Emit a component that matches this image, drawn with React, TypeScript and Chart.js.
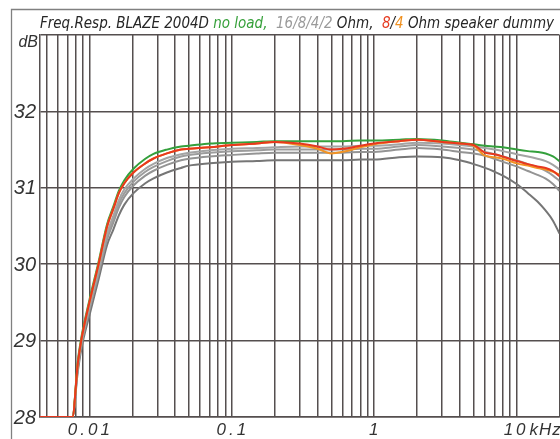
import React, { useEffect, useRef } from "react";
import { Chart, registerables } from "chart.js";

Chart.register(...registerables);

// Measurement frequencies in kHz
const FREQ_KHZ = [
  0.0045, 0.0076, 0.0083, 0.0088, 0.01, 0.0116, 0.0133, 0.0147, 0.0161, 0.0176,
  0.0204, 0.0247, 0.028, 0.035, 0.044, 0.05, 0.07, 0.1, 0.15, 0.2,
  0.3, 0.4, 0.5, 0.6, 0.8, 1, 1.5, 2, 3, 4,
  5, 6, 7, 8, 10, 12, 14, 16, 18, 20,
];

// Level in dB (the plot floor is 28 dB)
const NO_LOAD = [
  28, 28, 28.74, 29.05, 29.53, 30.03, 30.52, 30.75, 30.96, 31.1,
  31.25, 31.38, 31.44, 31.5, 31.54, 31.55, 31.58, 31.59, 31.6, 31.61,
  31.61, 31.61, 31.61, 31.61, 31.62, 31.62, 31.63, 31.64, 31.62, 31.59,
  31.57, 31.55, 31.54, 31.53, 31.5, 31.48, 31.47, 31.45, 31.41, 31.35,
];
const LOAD_16 = [
  28, 28, 28.68, 29.0, 29.45, 29.93, 30.4, 30.63, 30.84, 30.98,
  31.12, 31.25, 31.31, 31.39, 31.44, 31.46, 31.49, 31.51, 31.52, 31.53,
  31.54, 31.54, 31.54, 31.54, 31.55, 31.55, 31.57, 31.59, 31.58, 31.56,
  31.54, 31.52, 31.5, 31.48, 31.44, 31.41, 31.38, 31.35, 31.3, 31.24,
];
const LOAD_8 = [
  28, 28, 28.66, 28.97, 29.42, 29.9, 30.36, 30.58, 30.79, 30.93,
  31.08, 31.21, 31.27, 31.35, 31.41, 31.43, 31.46, 31.48, 31.49, 31.5,
  31.5, 31.5, 31.5, 31.5, 31.51, 31.51, 31.54, 31.56, 31.54, 31.52,
  31.5, 31.47, 31.44, 31.41, 31.36, 31.31, 31.27, 31.22, 31.16, 31.09,
];
const LOAD_4 = [
  28, 28, 28.64, 28.95, 29.4, 29.87, 30.32, 30.54, 30.74, 30.88,
  31.03, 31.16, 31.22, 31.3, 31.36, 31.38, 31.41, 31.43, 31.45, 31.46,
  31.46, 31.46, 31.46, 31.46, 31.47, 31.47, 31.5, 31.52, 31.5, 31.47,
  31.45, 31.42, 31.38, 31.34, 31.28, 31.22, 31.17, 31.12, 31.05, 30.96,
];
const LOAD_2 = [
  28, 28, 28.6, 28.9, 29.33, 29.8, 30.25, 30.45, 30.64, 30.78,
  30.93, 31.06, 31.12, 31.2, 31.26, 31.29, 31.32, 31.34, 31.35, 31.36,
  31.36, 31.36, 31.36, 31.36, 31.37, 31.37, 31.4, 31.41, 31.4, 31.36,
  31.31, 31.26, 31.21, 31.16, 31.05, 30.93, 30.82, 30.7, 30.57, 30.4,
];
const DUMMY_8 = [
  28, 28, 28.71, 29.02, 29.5, 30.0, 30.49, 30.72, 30.93, 31.06,
  31.2, 31.32, 31.38, 31.45, 31.5, 31.51, 31.53, 31.56, 31.58, 31.6,
  31.58, 31.54, 31.5, 31.51, 31.55, 31.58, 31.61, 31.63, 31.6, 31.58,
  31.56, 31.46, 31.44, 31.41, 31.35, 31.31, 31.28, 31.26, 31.22, 31.15,
];
const DUMMY_4 = [
  28, 28, 28.71, 29.02, 29.5, 30.0, 30.49, 30.72, 30.93, 31.06,
  31.2, 31.32, 31.38, 31.45, 31.5, 31.51, 31.53, 31.56, 31.58, 31.6,
  31.56, 31.51, 31.45, 31.47, 31.53, 31.57, 31.61, 31.63, 31.6, 31.58,
  31.55, 31.42, 31.4, 31.38, 31.32, 31.29, 31.26, 31.24, 31.21, 31.17,
];

const X_MIN = 0.0045;
const X_MAX = 20;
const Y_MIN = 28;
const Y_MAX = 33;

const X_LABEL_VALUES = [0.01, 0.1, 1, 10];
const X_LABEL_TEXT = ["0.01", "0.1", "1", "10"];
const X_UNIT = "kHz";
const Y_LABEL_VALUES = [28, 29, 30, 31, 32];
const Y_UNIT = "dB";

const TITLE_PARTS: [string, string][] = [
  ["Freq.Resp. BLAZE 2004D ", "#262626"],
  ["no load,", "#36a03a"],
  ["  16/8/4/2", "#9a9a9a"],
  [" Ohm,  ", "#262626"],
  ["8", "#e63c22"],
  ["/", "#262626"],
  ["4", "#f0901e"],
  [" Ohm speaker dummy", "#262626"],
];

const GRID_COLOR = "#554f4f";
const TEXT_COLOR = "#333333";

// 1..9 × decade grid lines across the frequency range
function logGridValues(): number[] {
  const out: number[] = [];
  for (let e = -3; e <= 1; e++) {
    for (let m = 1; m <= 9; m++) {
      const v = parseFloat((m * Math.pow(10, e)).toPrecision(3));
      if (v >= X_MIN - 1e-9 && v <= X_MAX + 1e-9) out.push(v);
    }
  }
  return out;
}

const decorPlugin = {
  id: "decor",
  beforeDraw(chart: any) {
    const ctx = chart.ctx as CanvasRenderingContext2D;
    ctx.save();
    ctx.fillStyle = "#ffffff";
    ctx.fillRect(0, 0, chart.width, chart.height);
    ctx.strokeStyle = "#808080";
    ctx.lineWidth = 1.3;
    ctx.beginPath();
    ctx.moveTo(11.5, chart.height);
    ctx.lineTo(11.5, 9.5);
    ctx.lineTo(chart.width, 9.5);
    ctx.stroke();
    ctx.restore();
  },
  afterDraw(chart: any) {
    const ctx = chart.ctx as CanvasRenderingContext2D;
    const xs = chart.scales.x;
    const ys = chart.scales.y;
    const area = chart.chartArea;
    ctx.save();

    // title, fitted to the frame width
    ctx.font = "italic 15px 'DejaVu Sans Condensed', 'DejaVu Sans', sans-serif";
    ctx.textBaseline = "alphabetic";
    ctx.textAlign = "left";
    let total = 0;
    for (const [t] of TITLE_PARTS) total += ctx.measureText(t).width;
    const targetW = 514;
    ctx.save();
    ctx.translate(40, 28);
    ctx.scale(targetW / total, 1);
    let cx = 0;
    for (const [t, c] of TITLE_PARTS) {
      ctx.fillStyle = c;
      ctx.fillText(t, cx, 0);
      cx += ctx.measureText(t).width;
    }
    ctx.restore();

    // y labels
    ctx.fillStyle = TEXT_COLOR;
    ctx.font = "italic 20px 'Liberation Sans', Arial, sans-serif";
    ctx.textAlign = "right";
    ctx.textBaseline = "middle";
    for (const v of Y_LABEL_VALUES) {
      ctx.fillText(String(v), 36, ys.getPixelForValue(v) + 1);
    }
    ctx.font = "italic 16px 'Liberation Sans', Arial, sans-serif";
    ctx.fillText(Y_UNIT, 38, area.top + 8);

    // x labels
    ctx.font = "italic 17px 'Liberation Sans', Arial, sans-serif";
    (ctx as any).letterSpacing = "3px";
    ctx.textBaseline = "alphabetic";
    X_LABEL_VALUES.forEach((v, i) => {
      const px = xs.getPixelForValue(v);
      const txt = X_LABEL_TEXT[i];
      if (i === X_LABEL_VALUES.length - 1) {
        ctx.textAlign = "left";
        ctx.fillText(txt, px - 13, area.bottom + 18);
        const w = ctx.measureText(txt).width;
        (ctx as any).letterSpacing = "1px";
        ctx.fillText(X_UNIT, px - 13 + w + 1, area.bottom + 18);
        (ctx as any).letterSpacing = "3px";
      } else {
        ctx.textAlign = "center";
        ctx.fillText(txt, px + 1, area.bottom + 18);
      }
    });
    ctx.restore();
  },
};

export default function App() {
  const canvasRef = useRef<HTMLCanvasElement | null>(null);

  useEffect(() => {
    const canvas = canvasRef.current;
    if (!canvas) return;

    const series = [
      { label: "8 Ohm speaker dummy", values: DUMMY_8, color: "#e8381e" },
      { label: "4 Ohm speaker dummy", values: DUMMY_4, color: "#f29324" },
      { label: "no load", values: NO_LOAD, color: "#34a03c" },
      { label: "16 Ohm", values: LOAD_16, color: "#a4a4a4" },
      { label: "8 Ohm", values: LOAD_8, color: "#9c9c9c" },
      { label: "4 Ohm", values: LOAD_4, color: "#949494" },
      { label: "2 Ohm", values: LOAD_2, color: "#767676" },
    ];

    const gridValues = logGridValues();

    const chart = new Chart(canvas, {
      type: "line",
      data: {
        datasets: series.map((s) => ({
          label: s.label,
          data: FREQ_KHZ.map((f, i) => ({ x: f, y: s.values[i] })),
          borderColor: s.color,
          borderWidth: 2,
          pointRadius: 0,
          fill: false,
          cubicInterpolationMode: "monotone" as const,
        })),
      },
      options: {
        responsive: false,
        animation: false,
        devicePixelRatio: 1,
        layout: { padding: { left: 40, top: 35, right: 0.5, bottom: 22 } },
        plugins: { legend: { display: false }, tooltip: { enabled: false } },
        scales: {
          x: {
            type: "logarithmic",
            min: X_MIN,
            max: X_MAX,
            afterBuildTicks: (s: any) => {
              s.ticks = gridValues.map((v) => ({ value: v }));
            },
            afterFit: (s: any) => {
              s.height = 0;
            },
            ticks: { display: false },
            grid: { color: GRID_COLOR, lineWidth: 1.5, drawTicks: false },
            border: { display: true, color: GRID_COLOR, width: 1.5 },
          },
          y: {
            type: "linear",
            min: Y_MIN,
            max: Y_MAX,
            ticks: { display: false, stepSize: 1 },
            afterFit: (s: any) => {
              s.width = 0;
            },
            grid: { color: GRID_COLOR, lineWidth: 1.5, drawTicks: false },
            border: { display: true, color: GRID_COLOR, width: 1.5 },
          },
        },
      },
      plugins: [decorPlugin],
    });

    return () => chart.destroy();
  }, []);

  return (
    <div style={{ position: "absolute", left: 0, top: 0, width: 560, height: 439, background: "#fff" }}>
      <canvas ref={canvasRef} width={560} height={439} style={{ display: "block" }} />
    </div>
  );
}
